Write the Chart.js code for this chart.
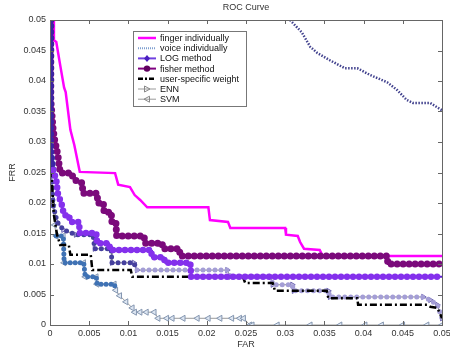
<!DOCTYPE html>
<html>
<head>
<meta charset="utf-8">
<script src="https://cdn.jsdelivr.net/npm/chart.js@4"></script>
<style>
  html, body { margin: 0; padding: 0; background: #fff; }
  #wrap { position: relative; width: 450px; height: 352px; }
</style>
</head>
<body>
<div id="wrap"><canvas id="roc" width="450" height="352"></canvas></div>
<script>
// ---- data (FAR on x, FRR on y) ----
const chartTitle = 'ROC Curve';
const xTitle = 'FAR';
const yTitle = 'FRR';
const tickValues = [0, 0.005, 0.01, 0.015, 0.02, 0.025, 0.03, 0.035, 0.04, 0.045, 0.05];
const tickLabels = ['0', '0.005', '0.01', '0.015', '0.02', '0.025', '0.03', '0.035', '0.04', '0.045', '0.05'];

const seriesNames = ['finger individually', 'voice individually', 'LOG method', 'fisher method',
  'user-specific weight', 'ENN', 'SVM'];

const fingerFar = [0.0001, 0.0004, 0.0005, 0.0008, 0.0013, 0.0018, 0.0020, 0.0026, 0.0031, 0.0038, 0.0083, 0.0087, 0.0102, 0.0108,
  0.0115, 0.0124, 0.0202, 0.0204, 0.0227, 0.0230, 0.0300, 0.0301, 0.0316, 0.0319, 0.0324, 0.0344, 0.0348, 0.0500];
const fingerFrr = [0.0500, 0.0500, 0.0467, 0.0464, 0.0426, 0.0389, 0.0382, 0.0320, 0.0295, 0.0251, 0.0249, 0.0230, 0.0226, 0.0213,
  0.0205, 0.0193, 0.0193, 0.0172, 0.0169, 0.0159, 0.0159, 0.0148, 0.0146, 0.0136, 0.0125, 0.0123, 0.0113, 0.0113];

const voiceFar = [0.0306, 0.0321, 0.0332, 0.0341, 0.0357, 0.0376, 0.0392, 0.0408, 0.0430, 0.0443, 0.0455, 0.0463, 0.0485, 0.0500];
const voiceFrr = [0.0500, 0.0480, 0.0456, 0.0446, 0.0434, 0.0421, 0.0421, 0.0410, 0.0398, 0.0385, 0.0369, 0.0364, 0.0364, 0.0352];

const logFar = [0.0001, 0.0001, 0.0004, 0.0008, 0.0010, 0.0015, 0.0018, 0.0024, 0.0026, 0.0037, 0.0038, 0.0059, 0.0060, 0.0075,
  0.0077, 0.0129, 0.0130, 0.0145, 0.0147, 0.0179, 0.0180, 0.0500];
const logFrr = [0.0500, 0.0287, 0.0254, 0.0238, 0.0216, 0.0197, 0.0180, 0.0180, 0.0169, 0.0169, 0.0151, 0.0151, 0.0134, 0.0134,
  0.0123, 0.0123, 0.0111, 0.0111, 0.0102, 0.0102, 0.0079, 0.0079];

const fisherFar = [0.0001, 0.0001, 0.0004, 0.0006, 0.0010, 0.0013, 0.0027, 0.0031, 0.0041, 0.0042, 0.0060, 0.0061, 0.0068, 0.0069,
  0.0078, 0.0079, 0.0084, 0.0085, 0.0120, 0.0121, 0.0143, 0.0144, 0.0165, 0.0166, 0.0430, 0.0431, 0.0500];
const fisherFrr = [0.0500, 0.0369, 0.0320, 0.0303, 0.0279, 0.0249, 0.0249, 0.0238, 0.0233, 0.0216, 0.0216, 0.0200, 0.0200, 0.0185,
  0.0185, 0.0169, 0.0169, 0.0146, 0.0146, 0.0134, 0.0134, 0.0125, 0.0125, 0.0113, 0.0113, 0.0100, 0.0100];

const userFar = [0.0001, 0.0001, 0.0003, 0.0005, 0.0009, 0.0013, 0.0024, 0.0026, 0.0052, 0.0054, 0.0103, 0.0105, 0.0246, 0.0249,
  0.0284, 0.0287, 0.0353, 0.0355, 0.0392, 0.0393, 0.0481, 0.0485, 0.0494, 0.0497, 0.0500];
const userFrr = [0.0500, 0.0287, 0.0221, 0.0180, 0.0148, 0.0131, 0.0131, 0.0115, 0.0115, 0.0090, 0.0090, 0.0079, 0.0079, 0.0069,
  0.0069, 0.0056, 0.0056, 0.0044, 0.0044, 0.0033, 0.0033, 0.0030, 0.0028, 0.0020, 0.0011];

const ennFar = [0.0001, 0.0001, 0.0004, 0.0009, 0.0017, 0.0033, 0.0055, 0.0057, 0.0078, 0.0079, 0.0107, 0.0111, 0.0226, 0.0230,
  0.0282, 0.0284, 0.0309, 0.0311, 0.0355, 0.0357, 0.0476, 0.0485, 0.0494, 0.0500];
const ennFrr = [0.0500, 0.0270, 0.0197, 0.0169, 0.0156, 0.0148, 0.0148, 0.0125, 0.0125, 0.0102, 0.0102, 0.0090, 0.0090, 0.0079,
  0.0079, 0.0066, 0.0066, 0.0056, 0.0056, 0.0046, 0.0046, 0.0041, 0.0033, 0.0011];

const svmFar = [0.0001, 0.0001, 0.0003, 0.0006, 0.0008, 0.0017, 0.0018, 0.0043, 0.0045, 0.0059, 0.0060, 0.0082, 0.0084, 0.0089,
  0.0097, 0.0105, 0.0108, 0.0115, 0.0123, 0.0133, 0.0138, 0.0149, 0.0156, 0.0170, 0.0188, 0.0202, 0.0217, 0.0232, 0.0242, 0.0247,
  0.0255, 0.0258, 0.0290, 0.0332, 0.0370, 0.0402, 0.0423, 0.0450, 0.0481, 0.0500];
const svmFrr = [0.0500, 0.0287, 0.0205, 0.0164, 0.0146, 0.0146, 0.0102, 0.0102, 0.0079, 0.0079, 0.0067, 0.0067, 0.0057, 0.0048,
  0.0038, 0.0028, 0.0021, 0.0021, 0.0021, 0.0021, 0.0011, 0.0011, 0.0011, 0.0011, 0.0011, 0.0011, 0.0011, 0.0011, 0.0011, 0.0011,
  0, 0, 0, 0, 0, 0, 0, 0, 0, 0];

const toPoints = (xs, ys) => xs.map((x, i) => ({ x: x, y: ys[i] }));

// legend sample styles (line colour, dash, width, marker)
const legendStyles = [
  { color: '#ff00ff', dash: [], width: 2.5, marker: null },
  { color: '#7f9fd0', dash: [1, 1], width: 2, marker: null },
  { color: '#7040e0', dash: [], width: 2, marker: 'diamond', mColor: '#4a1fc0' },
  { color: '#800080', dash: [], width: 2, marker: 'circle', mColor: '#600060' },
  { color: '#000', dash: [5, 2, 2, 2], width: 2.5, marker: null },
  { color: '#999', dash: [], width: 1, marker: 'triR', mColor: '#888' },
  { color: '#999', dash: [], width: 1, marker: 'triL', mColor: '#888' }
];

Chart.defaults.font.family = 'Arial, "Liberation Sans", sans-serif';
Chart.defaults.font.size = 9;
Chart.defaults.color = '#333';

// beads along a path: zero-length dashes with round caps look like dense markers
const beads = (data, color, width, gap, order, segColor) => {
  const ds = {
    label: '', data: data, showLine: true, borderColor: color, borderWidth: width,
    borderDash: [0, gap], borderCapStyle: 'round', pointRadius: 0, fill: false, order: order
  };
  if (segColor) ds.segment = { borderColor: segColor };
  return ds;
};

const line = (label, data, color, width, dash, order, extra) => Object.assign({
  label: label, data: data, showLine: true, borderColor: color, borderWidth: width,
  borderDash: dash, pointRadius: 0, fill: false, order: order
}, extra || {});

const fingerPts = toPoints(fingerFar, fingerFrr);
const voicePts = toPoints(voiceFar, voiceFrr);
const logPts = toPoints(logFar, logFrr);
const fisherPts = toPoints(fisherFar, fisherFrr);
const userPts = toPoints(userFar, userFrr);
const ennPts = toPoints(ennFar, ennFrr);
const svmPts = toPoints(svmFar, svmFrr);

const datasets = [
  line(seriesNames[1], voicePts, '#42428e', 2.5, [1.5, 1.5], 0),
  beads(logPts, '#8430ec', 6.5, 6, 0.5, c => c.p0.parsed.y > 0.026 ? '#3a24a4' : '#8430ec'),
  beads(fisherPts, '#7b0a7b', 7, 6, 1),
  line(seriesNames[3], fisherPts, '#6a006a', 2, [], 1),
  line(seriesNames[0], fingerPts, '#ff00ff', 2.5, [], 2),
  line(seriesNames[2], logPts, '#5a20d0', 2, [], 3),
  line(seriesNames[4], userPts, '#000000', 2.5, [7, 3, 2, 3], 4),
  beads(ennPts, '#8a82c8', 5, 6, 5, c => c.p0.parsed.x < 0.011 ? '#46409e' : '#a49ed6'),
  line(seriesNames[5], ennPts, '#8c8c8c', 1, [], 5, {
    pointRadius: 3, pointStyle: 'triangle', rotation: 90,
    pointBorderColor: '#6a62b0', pointBackgroundColor: '#d6d2ee', pointBorderWidth: 1
  }),
  beads(svmPts, '#4a7ab8', 5, 5, 6, c => c.p0.parsed.x < 0.0083 && c.p0.parsed.y < 0.016 ? '#3f72b4' : 'rgba(0,0,0,0)'),
  line(seriesNames[6], svmPts, '#9a9a9a', 1, [], 6, {
    pointRadius: 3.5, pointStyle: 'triangle', rotation: -90,
    pointBorderColor: '#8496b0', pointBackgroundColor: '#dde6f2', pointBorderWidth: 1
  })
];

function drawMarker(ctx, type, x, y, color) {
  ctx.save();
  ctx.setLineDash([]);
  ctx.fillStyle = color;
  ctx.strokeStyle = color;
  ctx.lineWidth = 1;
  ctx.beginPath();
  if (type === 'diamond') {
    ctx.moveTo(x, y - 3.5); ctx.lineTo(x + 3, y); ctx.lineTo(x, y + 3.5); ctx.lineTo(x - 3, y);
    ctx.closePath(); ctx.fill();
  } else if (type === 'circle') {
    ctx.arc(x, y, 3.2, 0, Math.PI * 2); ctx.fill();
  } else if (type === 'triR') {
    ctx.moveTo(x - 2.5, y - 3); ctx.lineTo(x + 3, y); ctx.lineTo(x - 2.5, y + 3);
    ctx.closePath(); ctx.stroke();
  } else if (type === 'triL') {
    ctx.moveTo(x + 2.5, y - 3); ctx.lineTo(x - 3, y); ctx.lineTo(x + 2.5, y + 3);
    ctx.closePath(); ctx.stroke();
  }
  ctx.restore();
}

const decorPlugin = {
  id: 'decor',
  afterDraw(chart) {
    const { ctx, chartArea: a, scales } = chart;
    const sx = scales.x, sy = scales.y;
    ctx.save();
    // box around the plot
    ctx.strokeStyle = '#666';
    ctx.lineWidth = 1;
    ctx.setLineDash([]);
    ctx.strokeRect(Math.round(a.left) + 0.5, Math.round(a.top) + 0.5,
      Math.round(a.right - a.left), Math.round(a.bottom - a.top));
    // inward tick marks on all four sides
    ctx.beginPath();
    tickValues.forEach(v => {
      const px = Math.round(sx.getPixelForValue(v)) + 0.5;
      ctx.moveTo(px, a.bottom); ctx.lineTo(px, a.bottom - 4);
      ctx.moveTo(px, a.top); ctx.lineTo(px, a.top + 4);
      const py = Math.round(sy.getPixelForValue(v)) + 0.5;
      ctx.moveTo(a.left, py); ctx.lineTo(a.left + 4, py);
      ctx.moveTo(a.right, py); ctx.lineTo(a.right - 4, py);
    });
    ctx.stroke();

    // title
    ctx.fillStyle = '#333';
    ctx.font = '9px Arial, "Liberation Sans", sans-serif';
    ctx.textAlign = 'center';
    ctx.textBaseline = 'middle';
    ctx.fillText(chartTitle, (a.left + a.right) / 2, 8);

    // legend box
    const bx = 133, by = 31, bw = 113, bh = 75;
    ctx.fillStyle = '#fff';
    ctx.fillRect(bx, by, bw, bh);
    ctx.strokeStyle = '#777';
    ctx.strokeRect(bx + 0.5, by + 0.5, bw, bh);
    ctx.textAlign = 'left';
    seriesNames.forEach((name, i) => {
      const st = legendStyles[i];
      const ry = 38 + i * 10.2;
      ctx.save();
      ctx.strokeStyle = st.color;
      ctx.lineWidth = st.width;
      ctx.setLineDash(st.dash);
      ctx.beginPath();
      ctx.moveTo(138, ry); ctx.lineTo(156, ry);
      ctx.stroke();
      ctx.restore();
      if (st.marker) drawMarker(ctx, st.marker, 147, ry, st.mColor);
      ctx.fillStyle = '#111';
      ctx.fillText(name, 160, ry + 0.5);
    });
    ctx.restore();
  }
};

const axisFor = (title, isX) => ({
  type: 'linear',
  min: 0,
  max: 0.05,
  afterBuildTicks: s => { s.ticks = tickValues.map(v => ({ value: v })); },
  afterFit: s => {
    if (isX) { s.height = 27; s.paddingLeft = 0; s.paddingRight = 0; }
    else { s.width = 50; s.paddingTop = 0; s.paddingBottom = 0; }
  },
  ticks: {
    autoSkip: false,
    maxRotation: 0,
    padding: isX ? 3 : 4,
    color: '#333',
    callback: (v, i) => tickLabels[i]
  },
  grid: { display: false, drawTicks: false },
  border: { display: false },
  title: {
    display: true, text: title, color: '#333',
    padding: isX ? { top: 0, bottom: 2 } : { top: 7, bottom: 0 }
  }
});

new Chart(document.getElementById('roc'), {
  type: 'scatter',
  data: { datasets: datasets },
  options: {
    responsive: false,
    animation: false,
    devicePixelRatio: 1,
    layout: { padding: { top: 20, right: 8, left: 0, bottom: 0 } },
    plugins: { legend: { display: false }, tooltip: { enabled: false }, title: { display: false } },
    scales: { x: axisFor(xTitle, true), y: axisFor(yTitle, false) }
  },
  plugins: [decorPlugin]
});
</script>
</body>
</html>
